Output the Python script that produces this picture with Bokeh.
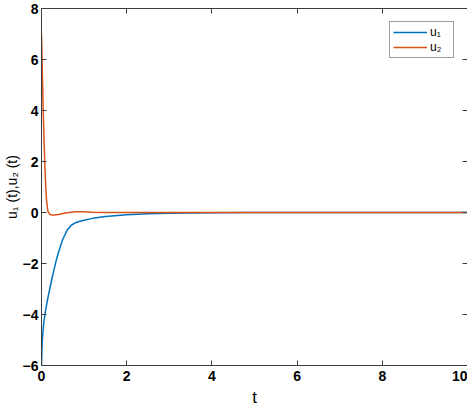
from bokeh.plotting import figure
from bokeh.models import LinearAxis, Range1d, FixedTicker, Legend, LegendItem
from bokeh.embed import file_html
from bokeh.resources import INLINE

t1 = [0, 0.01, 0.02, 0.04, 0.06, 0.08, 0.1, 0.15, 0.2, 0.25, 0.3, 0.35, 0.4, 0.5, 0.6, 0.7, 0.8, 0.9, 1.0, 1.2, 1.5, 2.0, 2.5, 3.0, 4.0, 5.0, 6.0, 8.0, 10.0]
u1 = [-6.0, -5.4, -5.0, -4.55, -4.25, -4.0, -3.8, -3.35, -2.95, -2.55, -2.2, -1.85, -1.55, -1.05, -0.7, -0.5, -0.4, -0.34, -0.3, -0.23, -0.16, -0.09, -0.05, -0.03, -0.01, 0.0, 0.0, 0.0, 0.0]
t2 = [0, 0.01, 0.02, 0.04, 0.06, 0.08, 0.1, 0.12, 0.15, 0.2, 0.25, 0.3, 0.4, 0.5, 0.6, 0.8, 0.9, 1.0, 1.2, 1.5, 2.0, 3.0, 5.0, 10.0]
u2 = [7.0, 6.3, 5.5, 4.0, 2.8, 1.8, 1.0, 0.45, 0.05, -0.08, -0.1, -0.1, -0.08, -0.04, -0.01, 0.03, 0.03, 0.03, 0.01, 0.0, 0.0, 0.0, 0.0, 0.0]
xticks = [0, 2, 4, 6, 8, 10]
yticks = [-6, -4, -2, 0, 2, 4, 6, 8]

FONT = "Liberation Sans"
AX = "#3c3c3c"

p = figure(frame_width=426, frame_height=357, output_backend="svg", toolbar_location=None,
           x_range=Range1d(0, 10), y_range=Range1d(-6, 8),
           min_border_left=32, min_border_right=0, min_border_top=8, min_border_bottom=0)
p.outline_line_color = None
p.grid.visible = False

r1 = p.line(t1, u1, line_color="#0072BD", line_width=1.5)
r2 = p.line(t2, u2, line_color="#D95319", line_width=1.5)

for ax in (p.xaxis[0], p.yaxis[0]):
    ax.major_tick_in = 5
    ax.major_tick_out = 0
    ax.minor_tick_in = 0
    ax.minor_tick_out = 0
    ax.axis_line_color = AX
    ax.major_tick_line_color = AX
    ax.major_label_text_font = FONT
    ax.major_label_text_font_size = "14px"
    ax.major_label_text_font_style = "bold"
    ax.major_label_text_color = "#000000"
    ax.axis_label_text_font = FONT
    ax.axis_label_text_font_style = "normal"
    ax.axis_label_text_color = "#000000"

p.xaxis[0].ticker = FixedTicker(ticks=xticks)
p.yaxis[0].ticker = FixedTicker(ticks=yticks)
p.xaxis[0].axis_label = "t"
p.xaxis[0].axis_label_text_font_size = "17px"
p.yaxis[0].axis_label = "u₁ (t),u₂ (t)"
p.yaxis[0].axis_label_text_font_size = "14px"
p.xaxis[0].major_label_standoff = 5
p.xaxis[0].axis_label_standoff = 4
p.yaxis[0].major_label_standoff = 3
p.yaxis[0].axis_label_standoff = 0

def box_axis(ticks):
    return LinearAxis(ticker=FixedTicker(ticks=ticks), major_label_text_font_size="1px",
                      major_label_text_color=None, major_label_standoff=0,
                      major_tick_in=5, major_tick_out=0, minor_tick_in=0, minor_tick_out=0,
                      axis_line_color=AX, major_tick_line_color=AX)

p.add_layout(box_axis(xticks), "above")
p.add_layout(box_axis(yticks), "right")

legend = Legend(items=[LegendItem(label="u₁", renderers=[r1]), LegendItem(label="u₂", renderers=[r2])],
                location="top_right", label_text_font=FONT, label_text_font_size="12px",
                label_text_color="#000000",
                border_line_color=AX, border_line_width=1, background_fill_color="white",
                glyph_width=34, glyph_height=14, label_standoff=3, spacing=1,
                padding=3, margin=13, label_height=14)
p.add_layout(legend)

open("out.html", "w").write(file_html(p, INLINE))
